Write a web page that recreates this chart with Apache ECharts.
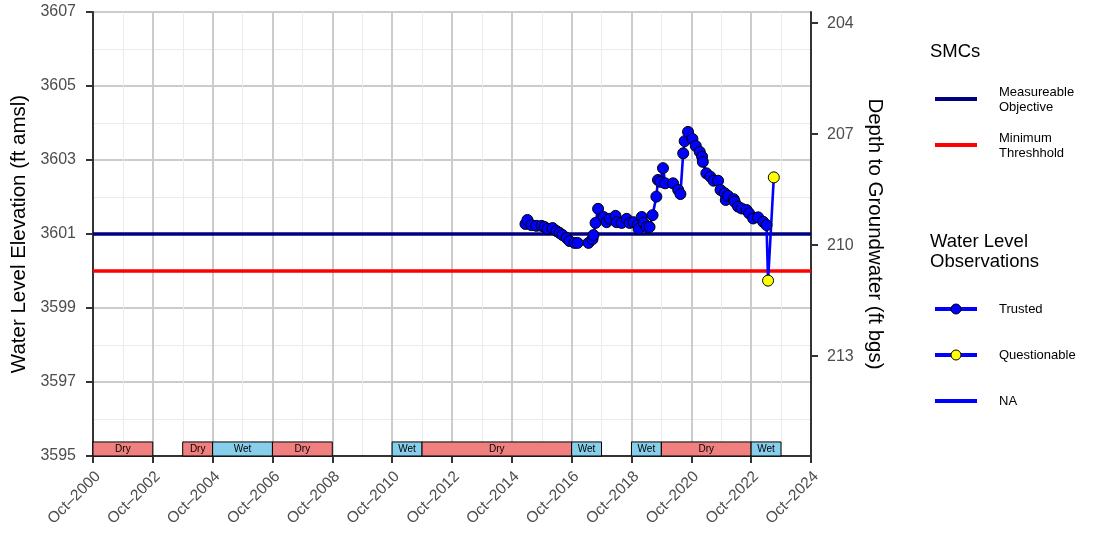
<!DOCTYPE html>
<html>
<head>
<meta charset="utf-8">
<title>Water Level Hydrograph</title>
<script src="https://cdn.jsdelivr.net/npm/echarts@6.0.0/dist/echarts.min.js"></script>
<style>
  html, body { margin: 0; padding: 0; background: #ffffff; }
  #chart { width: 1093px; height: 533px; }
</style>
</head>
<body>
<div id="chart"></div>
<script>
// ---- Observations (date, water level elevation in ft amsl, quality flag) ----
const obsDates = [
  '2015-03-17', '2015-04-10', '2015-05-28', '2015-07-28', '2015-09-29', '2015-11-05',
  '2015-12-11', '2016-02-11', '2016-03-30', '2016-05-06', '2016-06-12', '2016-08-01',
  '2016-09-06', '2016-11-06', '2016-12-13', '2017-04-25', '2017-06-13', '2017-06-25',
  '2017-07-20', '2017-08-20', '2017-10-26', '2017-12-02', '2018-01-09', '2018-03-21',
  '2018-04-03', '2018-06-04', '2018-08-04', '2018-09-10', '2018-10-28', '2018-12-16',
  '2018-12-28', '2019-02-04', '2019-02-27', '2019-04-04', '2019-05-10', '2019-06-16',
  '2019-08-01', '2019-08-21', '2019-09-19', '2019-10-21', '2019-11-17', '2020-02-21',
  '2020-04-24', '2020-05-21', '2020-06-24', '2020-07-12', '2020-08-22', '2020-10-15',
  '2020-11-25', '2021-01-13', '2021-02-10', '2021-02-19', '2021-04-03', '2021-05-22',
  '2021-07-01', '2021-08-24', '2021-09-23', '2021-11-14', '2021-11-26', '2021-12-24',
  '2022-03-03', '2022-03-15', '2022-04-25', '2022-06-06', '2022-08-06', '2022-09-07',
  '2022-10-26', '2022-12-26', '2023-02-26', '2023-04-07', '2023-04-26', '2023-07-05'
];
const obsElevation = [
  3601.27, 3601.38, 3601.24, 3601.22, 3601.22, 3601.19,
  3601.14, 3601.16, 3601.08, 3601.03, 3600.97, 3600.89,
  3600.81, 3600.76, 3600.76, 3600.76, 3600.86, 3600.97,
  3601.30, 3601.68, 3601.46, 3601.32, 3601.41, 3601.49,
  3601.32, 3601.30, 3601.41, 3601.30, 3601.32, 3601.24,
  3601.14, 3601.46, 3601.30, 3601.19, 3601.19, 3601.51,
  3602.01, 3602.46, 3602.41, 3602.78, 3602.37, 3602.37,
  3602.19, 3602.08, 3603.18, 3603.51, 3603.76, 3603.57,
  3603.38, 3603.22, 3603.09, 3602.95, 3602.64, 3602.55,
  3602.44, 3602.44, 3602.19, 3602.10, 3601.92, 3602.03,
  3601.94, 3601.87, 3601.74, 3601.69, 3601.65, 3601.56,
  3601.42, 3601.45, 3601.33, 3601.24, 3599.74, 3602.53
];
const obsQuality = [
  'Trusted', 'Trusted', 'Trusted', 'Trusted', 'Trusted', 'Trusted',
  'Trusted', 'Trusted', 'Trusted', 'Trusted', 'Trusted', 'Trusted',
  'Trusted', 'Trusted', 'Trusted', 'Trusted', 'Trusted', 'Trusted',
  'Trusted', 'Trusted', 'Trusted', 'Trusted', 'Trusted', 'Trusted',
  'Trusted', 'Trusted', 'Trusted', 'Trusted', 'Trusted', 'Trusted',
  'Trusted', 'Trusted', 'Trusted', 'Trusted', 'Trusted', 'Trusted',
  'Trusted', 'Trusted', 'Trusted', 'Trusted', 'Trusted', 'Trusted',
  'Trusted', 'Trusted', 'Trusted', 'Trusted', 'Trusted', 'Trusted',
  'Trusted', 'Trusted', 'Trusted', 'Trusted', 'Trusted', 'Trusted',
  'Trusted', 'Trusted', 'Trusted', 'Trusted', 'Trusted', 'Trusted',
  'Trusted', 'Trusted', 'Trusted', 'Trusted', 'Trusted', 'Trusted',
  'Trusted', 'Trusted', 'Trusted', 'Trusted', 'Questionable', 'Questionable'
];

// ---- Sustainable management criteria (ft amsl) ----
const measurableObjective = 3601;
const minimumThreshold = 3600;
// Ground surface elevation used for the depth-to-water axis
const groundSurface = 3810.7;

// ---- Water year type periods ----
const periodStart = ['2000-10-01', '2003-10-01', '2004-10-01', '2006-10-01', '2010-10-01',
                     '2011-10-01', '2016-10-01', '2018-10-01', '2019-10-01', '2022-10-01'];
const periodEnd   = ['2002-10-01', '2004-10-01', '2006-10-01', '2008-10-01', '2011-10-01',
                     '2016-10-01', '2017-10-01', '2019-10-01', '2022-10-01', '2023-10-01'];
const periodType  = ['Dry', 'Dry', 'Wet', 'Dry', 'Wet', 'Dry', 'Wet', 'Wet', 'Dry', 'Wet'];

// ---- Axis ranges and ticks ----
const elevMin = 3595, elevMax = 3607, elevStep = 2;
const depthTicks = [204, 207, 210, 213];
const xStartYear = 2000.75, xEndYear = 2024.75, xStepYears = 2;

// ---- Styling ----
const FONT = "'Liberation Sans', Arial, Helvetica, sans-serif";
const TICK_GREY = '#4D4D4D';
const AXIS_DARK = '#333333';
const BAND_HEIGHT = 0.38;
const typeColors = { Dry: '#F08080', Wet: '#87CEEB' };
const qualityColors = { Trusted: '#0000FF', Questionable: '#FFFF00' };

// date string -> decimal year
function toYear(s) {
  const d = new Date(s + 'T00:00:00Z');
  const y = d.getUTCFullYear();
  const a = Date.UTC(y, 0, 1), b = Date.UTC(y + 1, 0, 1);
  return y + (d.getTime() - a) / (b - a);
}

const obsData = obsDates.map((d, i) => ({
  value: [toYear(d), obsElevation[i]],
  itemStyle: { color: qualityColors[obsQuality[i]], borderColor: '#000000', borderWidth: 1 }
}));

const periodData = periodType.map((t, i) => [toYear(periodStart[i]), toYear(periodEnd[i]), t]);

const chart = echarts.init(document.getElementById('chart'), null, { renderer: 'canvas' });

const axisLineStyle = { color: AXIS_DARK, width: 2 };

const option = {
  animation: false,
  backgroundColor: '#ffffff',
  textStyle: { fontFamily: FONT },
  grid: { left: 93, right: 282, top: 12, bottom: 77, containLabel: false, outerBoundsMode: 'none' },
  xAxis: {
    type: 'value',
    min: xStartYear,
    max: xEndYear,
    interval: xStepYears,
    axisLine: { show: true, onZero: false, lineStyle: axisLineStyle },
    axisTick: { show: true, length: 7, lineStyle: { color: AXIS_DARK, width: 2 } },
    axisLabel: {
      rotate: 45,
      margin: 23,
      padding: [0, -7, 0, 0],
      color: TICK_GREY,
      fontSize: 15.5,
      fontFamily: FONT,
      formatter: v => 'Oct\u2013' + Math.round(v - 0.75)
    },
    splitLine: { show: true, lineStyle: { color: '#CCCCCC', width: 2 } },
    minorTick: { show: false, splitNumber: 2 },
    minorSplitLine: { show: true, lineStyle: { color: '#EBEBEB', width: 1 } }
  },
  yAxis: [
    {
      type: 'value',
      min: elevMin,
      max: elevMax,
      interval: elevStep,
      name: 'Water Level Elevation (ft amsl)',
      nameLocation: 'middle',
      nameRotate: 90,
      nameGap: 49,
      nameTextStyle: { fontSize: 20.5, color: '#000000', fontFamily: FONT },
      axisLine: { show: true, lineStyle: axisLineStyle },
      axisTick: { show: true, length: 7, lineStyle: { color: AXIS_DARK, width: 2 } },
      axisLabel: { color: TICK_GREY, fontSize: 16, margin: 17, fontFamily: FONT, formatter: v => String(v) },
      splitLine: { show: true, lineStyle: { color: '#CCCCCC', width: 2 } },
      minorTick: { show: false, splitNumber: 2 },
      minorSplitLine: { show: true, lineStyle: { color: '#EBEBEB', width: 1 } }
    },
    {
      type: 'value',
      position: 'right',
      inverse: true,
      min: groundSurface - elevMax,
      max: groundSurface - elevMin,
      name: 'Depth to Groundwater (ft bgs)',
      nameLocation: 'middle',
      nameRotate: -90,
      nameGap: 43,
      nameTextStyle: { fontSize: 20.5, color: '#000000', fontFamily: FONT },
      axisLine: { show: true, lineStyle: axisLineStyle },
      axisTick: { show: true, length: 7, customValues: depthTicks, lineStyle: { color: AXIS_DARK, width: 2 } },
      axisLabel: { color: TICK_GREY, fontSize: 16, margin: 16, fontFamily: FONT, customValues: depthTicks, formatter: v => String(v) },
      splitLine: { show: false }
    }
  ],
  series: [
    {
      // water year type bands along the bottom of the panel
      type: 'custom',
      name: 'Water Year Type',
      xAxisIndex: 0,
      yAxisIndex: 0,
      silent: true,
      z: 3,
      data: periodData,
      renderItem: function (params, api) {
        const p0 = api.coord([api.value(0), elevMin]);
        const p1 = api.coord([api.value(1), elevMin + BAND_HEIGHT]);
        const t = periodType[params.dataIndex];
        return {
          type: 'group',
          children: [
            {
              type: 'rect',
              shape: { x: p0[0], y: p1[1], width: p1[0] - p0[0], height: p0[1] - p1[1] },
              style: { fill: typeColors[t], stroke: '#000000', lineWidth: 1 }
            },
            {
              type: 'text',
              style: {
                text: t,
                x: (p0[0] + p1[0]) / 2,
                y: (p0[1] + p1[1]) / 2 + 0.5,
                align: 'center',
                verticalAlign: 'middle',
                fontSize: 10,
                fontFamily: FONT,
                fill: '#000000'
              }
            }
          ]
        };
      }
    },
    {
      // SMC reference lines
      type: 'line',
      name: 'SMCs',
      data: [],
      silent: true,
      z: 4,
      markLine: {
        silent: true,
        symbol: ['none', 'none'],
        label: { show: false },
        animation: false,
        data: [
          { yAxis: measurableObjective, lineStyle: { color: '#000080', width: 3.5, type: 'solid' } },
          { yAxis: minimumThreshold, lineStyle: { color: '#FF0000', width: 3.5, type: 'solid' } }
        ]
      }
    },
    {
      type: 'line',
      name: 'Water Level Observations',
      data: obsData,
      z: 5,
      symbol: 'circle',
      symbolSize: 11,
      showSymbol: true,
      showAllSymbol: true,
      lineStyle: { color: '#0000FF', width: 2.6 },
      emphasis: { disabled: true }
    }
  ],
  graphic: [
    // SMC legend
    { type: 'text', left: 930, top: 42, style: { text: 'SMCs', fontSize: 18.5, fontFamily: FONT, fill: '#000000' } },
    { type: 'line', shape: { x1: 935, y1: 99, x2: 977, y2: 99 }, style: { stroke: '#000080', lineWidth: 4 } },
    { type: 'text', style: { text: 'Measureable\nObjective', x: 999, y: 100, verticalAlign: 'middle', fontSize: 13, lineHeight: 14.6, fontFamily: FONT, fill: '#000000' } },
    { type: 'line', shape: { x1: 935, y1: 145, x2: 977, y2: 145 }, style: { stroke: '#FF0000', lineWidth: 4 } },
    { type: 'text', style: { text: 'Minimum\nThreshhold', x: 999, y: 146, verticalAlign: 'middle', fontSize: 13, lineHeight: 14.6, fontFamily: FONT, fill: '#000000' } },
    // observation legend
    { type: 'text', style: { text: 'Water Level\nObservations', x: 930, y: 252, verticalAlign: 'middle', fontSize: 18.5, lineHeight: 20.5, fontFamily: FONT, fill: '#000000' } },
    { type: 'line', shape: { x1: 935, y1: 309, x2: 977, y2: 309 }, style: { stroke: '#0000FF', lineWidth: 4 } },
    { type: 'circle', shape: { cx: 956, cy: 309, r: 5 }, style: { fill: '#0000FF', stroke: '#000000', lineWidth: 1 } },
    { type: 'text', style: { text: 'Trusted', x: 999, y: 309.5, verticalAlign: 'middle', fontSize: 13, fontFamily: FONT, fill: '#000000' } },
    { type: 'line', shape: { x1: 935, y1: 355, x2: 977, y2: 355 }, style: { stroke: '#0000FF', lineWidth: 4 } },
    { type: 'circle', shape: { cx: 956, cy: 355, r: 5 }, style: { fill: '#FFFF00', stroke: '#000000', lineWidth: 1 } },
    { type: 'text', style: { text: 'Questionable', x: 999, y: 355.5, verticalAlign: 'middle', fontSize: 13, fontFamily: FONT, fill: '#000000' } },
    { type: 'line', shape: { x1: 935, y1: 401, x2: 977, y2: 401 }, style: { stroke: '#0000FF', lineWidth: 4 } },
    { type: 'text', style: { text: 'NA', x: 999, y: 401.5, verticalAlign: 'middle', fontSize: 13, fontFamily: FONT, fill: '#000000' } }
  ]
};

chart.setOption(option);
</script>
</body>
</html>
